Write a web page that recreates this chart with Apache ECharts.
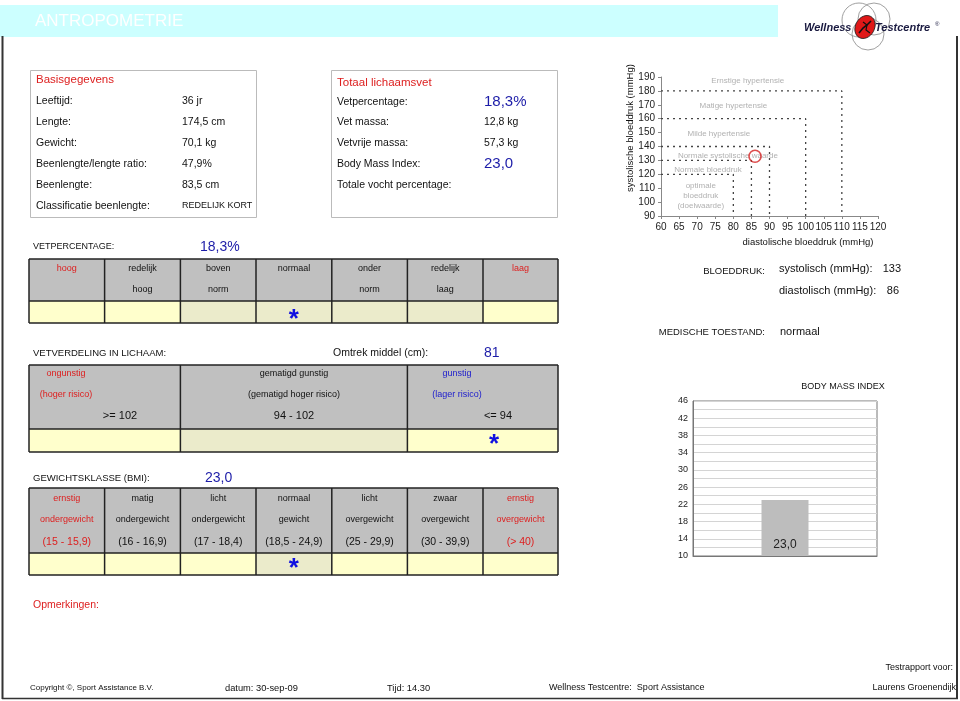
<!DOCTYPE html>
<html><head><meta charset="utf-8">
<script src="https://cdn.jsdelivr.net/npm/echarts@6/dist/echarts.min.js"></script>
<style>html,body{margin:0;padding:0;background:#fff}#c{width:960px;height:701px}</style>
</head><body><div id="c"></div>
<script>
// ---------- DATA ----------
const basisLabels = ['Leeftijd:', 'Lengte:', 'Gewicht:', 'Beenlengte/lengte ratio:', 'Beenlengte:', 'Classificatie beenlengte:'];
const basisValues = ['36 jr', '174,5 cm', '70,1 kg', '47,9%', '83,5 cm', 'REDELIJK KORT'];
const vetLabels = ['Vetpercentage:', 'Vet massa:', 'Vetvrije massa:', 'Body Mass Index:', 'Totale vocht percentage:'];
const vetValues = ['18,3%', '12,8 kg', '57,3 kg', '23,0', ''];
const vetPercentage = '18,3%';
const vetHeader1 = ['hoog', 'redelijk', 'boven', 'normaal', 'onder', 'redelijk', 'laag'];
const vetHeader2 = ['', 'hoog', 'norm', '', 'norm', 'laag', ''];
const vetStarCol = 3;
const omtrekMiddel = '81';
const verdHeader1 = ['ongunstig', 'gematigd gunstig', 'gunstig'];
const verdHeader2 = ['(hoger risico)', '(gematigd hoger risico)', '(lager risico)'];
const verdHeader3 = ['>= 102', '94 - 102', '<= 94'];
const verdStarCol = 2;
const bmiText = '23,0';
const bmiHeader1 = ['ernstig', 'matig', 'licht', 'normaal', 'licht', 'zwaar', 'ernstig'];
const bmiHeader2 = ['ondergewicht', 'ondergewicht', 'ondergewicht', 'gewicht', 'overgewicht', 'overgewicht', 'overgewicht'];
const bmiHeader3 = ['(15 - 15,9)', '(16 - 16,9)', '(17 - 18,4)', '(18,5 - 24,9)', '(25 - 29,9)', '(30 - 39,9)', '(> 40)'];
const bmiStarCol = 3;
// blood pressure chart
const bpLevels = [180, 160, 140, 130, 120];      // systolic thresholds
const bpLimits = [110, 100, 90, 85, 80];          // diastolic thresholds
const bpZoneNames = ['Ernstige hypertensie', 'Matige hypertensie', 'Milde hypertensie', 'Normale systolische waarde', 'Normale bloeddruk', 'optimale', 'bloeddruk', '(doelwaarde)'];
const bpZoneX = [84, 80, 76, 78.5, 73, 71, 71, 71];
const bpZoneY = [187, 169, 149, 133.5, 123.5, 111.5, 104.5, 97.5];
const bpPoint = [86, 133];
const systolisch = '133';
const diastolisch = '86';
const medischeToestand = 'normaal';
// BMI chart
const bmiCategories = ['BMI'];
const bmiValues = [23.0];

// ---------- LAYOUT HELPERS ----------
const F = '"Liberation Sans", Arial, sans-serif';
const RED = '#dd2020', BLUE = '#1c1ca8', STAR = '#1010e0';
const G = [];
function T(x, y, s, size, opt) {
  opt = opt || {};
  G.push({type: 'text', x: x, y: y, z: opt.z || 10, rotation: opt.rot || 0, style: {
    text: s, fill: opt.color || '#111', font: (opt.weight || 'normal') + ' ' + size + 'px ' + (opt.font || F),
    align: opt.align || 'left', verticalAlign: 'middle', textAlign: opt.align || 'left', textVerticalAlign: 'middle'}});
}
function R(x, y, w, h, fill, stroke, lw, z) {
  G.push({type: 'rect', z: z || 1, shape: {x: x, y: y, width: w, height: h},
    style: {fill: fill || 'none', stroke: stroke || 'none', lineWidth: lw || 1}});
}
function L(x1, y1, x2, y2, c, w, z) {
  G.push({type: 'line', z: z || 5, shape: {x1: x1, y1: y1, x2: x2, y2: y2}, style: {stroke: c, lineWidth: w}});
}
function star(x, y) { T(x, y, '*', 26, {color: STAR, align: 'center', weight: 'bold', z: 12}); }

const YEL = '#ffffcc', DOT = '#ebebcb', HDR = '#c0c0c0';
function table(edges, top, hb, bottom, fills) {
  const x0 = edges[0], x1 = edges[edges.length - 1];
  R(x0, top, x1 - x0, hb - top, HDR);
  for (let i = 0; i < edges.length - 1; i++) R(edges[i], hb, edges[i + 1] - edges[i], bottom - hb, fills[i]);
  L(x0, top, x1, top, '#222', 1.5); L(x0, hb, x1, hb, '#222', 1.5); L(x0, bottom, x1, bottom, '#222', 1.5);
  edges.forEach(e => L(e, top, e, bottom, '#222', 1.5));
}

// banner + frame
R(0, 5, 778, 32, '#ccffff', null, 1, 0);
T(35, 21, 'ANTROPOMETRIE', 17, {color: '#ffffff'});
L(2.5, 36, 2.5, 699, '#333', 2);
L(957, 36, 957, 699, '#333', 2);
L(2, 698.5, 958, 698.5, '#333', 1.5);

// logo
G.push({type: 'circle', z: 3, shape: {cx: 859, cy: 20, r: 17}, style: {fill: 'none', stroke: '#888', lineWidth: 0.8}});
G.push({type: 'circle', z: 3, shape: {cx: 874, cy: 19, r: 16}, style: {fill: 'none', stroke: '#888', lineWidth: 0.8}});
G.push({type: 'circle', z: 3, shape: {cx: 868, cy: 34, r: 16}, style: {fill: 'none', stroke: '#888', lineWidth: 0.8}});
G.push({type: 'ellipse', z: 4, x: 865, y: 27, rotation: -0.5, shape: {cx: 0, cy: 0, rx: 9.5, ry: 12}, style: {fill: '#e01818', stroke: '#222', lineWidth: 0.8}});
G.push({type: 'polyline', z: 5, shape: {points: [[859, 33], [863, 28], [867, 25], [871, 21]]}, style: {stroke: '#111', lineWidth: 1.6, fill: 'none'}});
G.push({type: 'polyline', z: 5, shape: {points: [[863, 22], [867, 25], [866, 30], [870, 33]]}, style: {stroke: '#111', lineWidth: 1.2, fill: 'none'}});
T(804, 28, 'Wellness', 11, {color: '#1a1a40', weight: 'italic bold', z: 6});
T(875, 28, 'Testcentre', 11, {color: '#1a1a40', weight: 'italic bold', z: 6});
T(935, 24, '®', 6, {color: '#1a1a40'});

// Basisgegevens box
R(30.5, 70.5, 226, 147, '#fff', '#bbb', 1);
T(36, 80, 'Basisgegevens', 11.5, {color: RED});
basisLabels.forEach((s, i) => {
  const y = 101 + i * 21;
  T(36, y, s, 10.5);
  T(182, y, basisValues[i], i === 5 ? 9 : 10.5);
});
// Totaal lichaamsvet box
R(331.5, 70.5, 226, 147, '#fff', '#bbb', 1);
T(337, 83, 'Totaal lichaamsvet', 11.5, {color: RED});
const vetY = [102, 122, 143, 164, 185];
vetLabels.forEach((s, i) => {
  T(337, vetY[i], s, 10.5);
  const big = (i === 0 || i === 3);
  T(484, vetY[i], vetValues[i], big ? 15 : 10.5, {color: big ? BLUE : '#111'});
});

// VETPERCENTAGE
T(33, 247, 'VETPERCENTAGE:', 9);
T(200, 247, vetPercentage, 14, {color: BLUE});
const e7 = [29, 104.6, 180.4, 256, 331.8, 407.4, 483, 558];
table(e7, 259, 301, 323, [YEL, YEL, DOT, DOT, DOT, DOT, YEL]);
vetHeader1.forEach((s, i) => {
  const cx = (e7[i] + e7[i + 1]) / 2;
  const red = (i === 0 || i === 6);
  T(cx, 269, s, 9, {color: red ? RED : '#111', align: 'center'});
  T(cx, 290, vetHeader2[i], 9, {align: 'center'});
});
star((e7[vetStarCol] + e7[vetStarCol + 1]) / 2, 320);

// Bloeddruk texts
T(765, 271, 'BLOEDDRUK:', 9.5, {align: 'right'});
T(779, 269, 'systolisch (mmHg):', 11);
T(901, 269, systolisch, 11, {align: 'right'});
T(779, 291, 'diastolisch (mmHg):', 11);
T(899, 291, diastolisch, 11, {align: 'right'});
T(765, 332, 'MEDISCHE TOESTAND:', 9.5, {align: 'right'});
T(780, 332, medischeToestand, 11);

// Vetverdeling
T(33, 353, 'VETVERDELING IN LICHAAM:', 9.5);
T(333, 353, 'Omtrek middel (cm):', 10.5);
T(484, 353, omtrekMiddel, 14, {color: BLUE});
const e3 = [29, 180.4, 407.4, 558];
table(e3, 365, 429, 452, [YEL, DOT, YEL]);
const vX1 = [66, 294, 457], vX3 = [120, 294, 498];
const vCol = ['#dd2020', '#111', '#2020cc'];
verdHeader1.forEach((s, i) => {
  T(vX1[i], 374, s, 9, {color: vCol[i], align: 'center'});
  T(vX1[i], 395, verdHeader2[i], 9, {color: vCol[i], align: 'center'});
  T(vX3[i], 416, verdHeader3[i], 11, {align: 'center'});
});
star(494, 445);

// Gewichtsklasse
T(33, 478, 'GEWICHTSKLASSE (BMI):', 9.5);
T(205, 478, bmiText, 14, {color: BLUE});
table(e7, 488, 553, 575, [YEL, YEL, YEL, DOT, YEL, YEL, YEL]);
bmiHeader1.forEach((s, i) => {
  const cx = (e7[i] + e7[i + 1]) / 2;
  const red = (i === 0 || i === 6);
  const c = red ? RED : '#111';
  T(cx, 499, s, 9, {color: c, align: 'center'});
  T(cx, 520, bmiHeader2[i], 9, {color: c, align: 'center'});
  T(cx, 542, bmiHeader3[i], 10.5, {color: c, align: 'center'});
});
star((e7[bmiStarCol] + e7[bmiStarCol + 1]) / 2, 569);

// Opmerkingen & footer
T(33, 605, 'Opmerkingen:', 10.5, {color: RED});
T(953, 668, 'Testrapport voor:', 9, {align: 'right'});
T(30, 688, 'Copyright \u00a9, Sport Assistance B.V.', 8);
T(225, 688, 'datum: 30-sep-09', 9.3);
T(387, 688, 'Tijd: 14.30', 9.3);
T(549, 688, 'Wellness Testcentre:  Sport Assistance', 9);
T(956, 688, 'Laurens Groenendijk', 9, {align: 'right'});

// axis names of bp chart & BMI title
T(808, 242, 'diastolische bloeddruk (mmHg)', 9.5, {align: 'center'});
T(630, 128, 'systolische bloeddruk (mmHg)', 9.5, {align: 'center', rot: Math.PI / 2});
T(843, 387, 'BODY MASS INDEX', 9, {align: 'center'});

// ---------- SERIES ----------
const series = [];
bpLevels.forEach((lvl, i) => {
  series.push({type: 'line', xAxisIndex: 0, yAxisIndex: 0, symbol: 'none', silent: true,
    data: [[60, lvl], [bpLimits[i], lvl], [bpLimits[i], 90]],
    lineStyle: {color: '#444', width: 1.3, type: [2, 4]}});
});
series.push({type: 'scatter', xAxisIndex: 0, yAxisIndex: 0, symbolSize: 0.1,
  itemStyle: {color: 'rgba(0,0,0,0)'},
  data: bpZoneNames.map((n, i) => ({name: n, value: [bpZoneX[i], bpZoneY[i]]})),
  label: {show: true, position: 'inside', formatter: '{b}', color: '#9c9c9c', fontSize: 8, fontFamily: F}});
series.push({type: 'scatter', xAxisIndex: 0, yAxisIndex: 0, symbolSize: 12, z: 5,
  data: [bpPoint],
  itemStyle: {color: 'rgba(0,0,0,0)', borderColor: '#d42020', borderWidth: 1.6}});
series.push({type: 'bar', xAxisIndex: 1, yAxisIndex: 1, data: bmiValues, barWidth: 47,
  itemStyle: {color: '#bdbdbd'},
  label: {show: true, position: 'insideBottom', distance: 5, color: '#222', fontSize: 12, fontFamily: F,
    formatter: p => p.value.toFixed(1).replace('.', ',')}});

const axisLbl = {color: '#222', fontSize: 10, fontFamily: F};
const option = {
  animation: false,
  backgroundColor: '#ffffff',
  graphic: G,
  grid: [
    {left: 661, top: 77, width: 217, height: 139},
    {left: 693, top: 401, width: 184, height: 155, show: true, borderColor: '#777', borderWidth: 1, backgroundColor: '#fff'}
  ],
  xAxis: [
    {type: 'value', gridIndex: 0, min: 60, max: 120, interval: 5,
      axisLine: {show: true, lineStyle: {color: '#888'}}, axisTick: {show: true, length: 3, lineStyle: {color: '#888'}},
      axisLabel: Object.assign({margin: 6}, axisLbl), splitLine: {show: false}},
    {type: 'category', gridIndex: 1, data: bmiCategories, axisLabel: {show: false}, axisTick: {show: false},
      axisLine: {show: true, lineStyle: {color: '#777'}}}
  ],
  yAxis: [
    {type: 'value', gridIndex: 0, min: 90, max: 190, interval: 10,
      axisLine: {show: true, lineStyle: {color: '#888'}}, axisTick: {show: true, length: 3, lineStyle: {color: '#888'}},
      axisLabel: Object.assign({margin: 6}, axisLbl), splitLine: {show: false}},
    {type: 'value', gridIndex: 1, min: 10, max: 46, interval: 2,
      axisLine: {show: true, lineStyle: {color: '#777'}}, axisTick: {show: false},
      axisLabel: {color: '#222', fontSize: 9, fontFamily: F, margin: 5, formatter: v => ((v - 10) % 4 === 0 ? String(v) : '')},
      splitLine: {show: true, lineStyle: {color: '#d4d4d4', width: 1}}}
  ],
  series: series
};
const chart = echarts.init(document.getElementById('c'), null, {renderer: 'canvas'});
chart.setOption(option);
</script>
</body></html>
